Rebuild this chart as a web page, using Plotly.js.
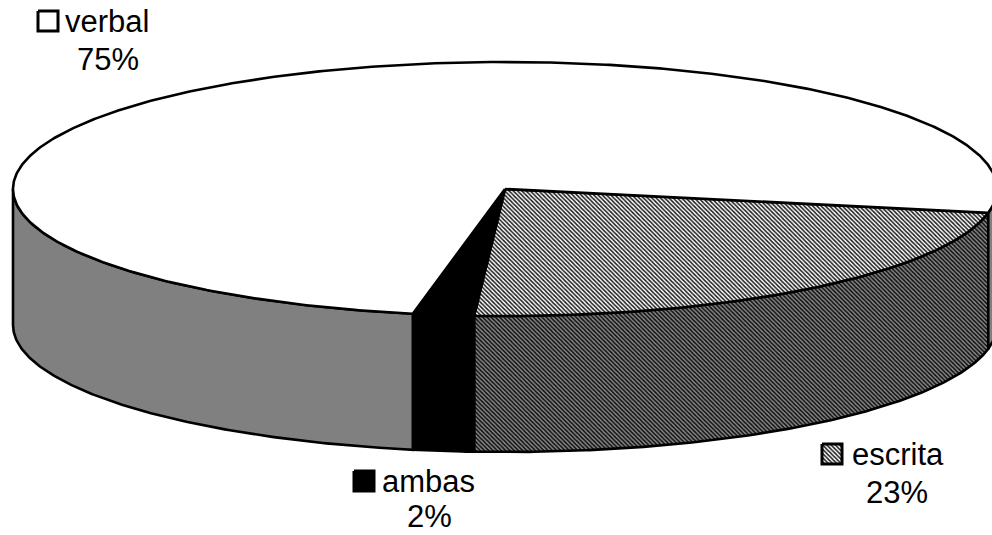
<!DOCTYPE html>
<html>
<head>
<meta charset="utf-8">
<script src="https://cdn.plot.ly/plotly-3.0.1.min.js"></script>
<style>html,body{margin:0;padding:0;background:#fff}</style>
</head>
<body>
<div id="chart" style="width:992px;height:535px"></div>
<script>
// Share of each communication type, in percent, clockwise from the right edge of the disc.
const categories = ["escrita", "ambas", "verbal"];
const shares = [23, 2, 75];

// Placement of each label and its key on the page.
const keyCentres = { escrita: [832, 454], ambas: [364, 481], verbal: [48, 21] };
const nameStarts = { escrita: 850, ambas: 380, verbal: 63 };
const shareCentres = { escrita: [897, 492], ambas: [429, 516], verbal: [108, 59] };

// Disc geometry of the tilted pie, in page pixels.
const cx = 505, cy = 189, rx = 492, ry = 127, depth = 136;
const startAngle = 10.8;

const topPattern = { shape: "\\", size: 3, solidity: 0.5, fgcolor: "#1a1a1a", bgcolor: "#ffffff", fillmode: "replace" };
const wallPattern = { shape: "\\", size: 3, solidity: 0.5, fgcolor: "#0d0d0d", bgcolor: "#8a8a8a", fillmode: "replace" };

const styles = {
  escrita: { top: { fillcolor: "#ffffff", fillpattern: topPattern }, wall: { fillcolor: "#808080", fillpattern: wallPattern } },
  ambas: { top: { fillcolor: "#000000" }, wall: { fillcolor: "#000000" } },
  verbal: { top: { fillcolor: "#ffffff" }, wall: { fillcolor: "#808080" } }
};

const rad = d => d * Math.PI / 180;
const rimX = a => cx + rx * Math.cos(rad(a));
const rimY = a => cy + ry * Math.sin(rad(a));

function arc(from, to) {
  const steps = Math.max(2, Math.ceil(Math.abs(to - from) * 2));
  const out = [];
  for (let i = 0; i <= steps; i++) out.push(from + (to - from) * i / steps);
  return out;
}

function polygon(xs, ys, style, width) {
  return Object.assign({
    type: "scatter", mode: "lines", x: xs, y: ys, fill: "toself",
    line: { color: "#000000", width: width === undefined ? 2.6 : width, shape: "linear" },
    hoverinfo: "skip", showlegend: false
  }, style);
}

function wallTrace(from, to, style) {
  const a = arc(from, to);
  const b = a.slice().reverse();
  return polygon(
    a.map(rimX).concat(b.map(rimX), [rimX(from)]),
    a.map(rimY).concat(b.map(v => rimY(v) + depth), [rimY(from)]),
    style
  );
}

function topTrace(from, to, style) {
  const a = arc(from, to);
  return polygon(
    [cx].concat(a.map(rimX), [cx]),
    [cy].concat(a.map(rimY), [cy]),
    style
  );
}

// Turn the shares into slice angles.
const slices = [];
let running = startAngle;
categories.forEach((name, i) => {
  const sweep = shares[i] * 3.6;
  slices.push({ name, from: running, to: running + sweep });
  running += sweep;
});

const walls = [];
const tops = [];
slices.forEach(s => {
  tops.push(topTrace(s.from, s.to, styles[s.name].top));
  // Only the near half of the rim (0 to 180 degrees) has a visible wall.
  const ranges = [[s.from, Math.min(s.to, 180)], [360, Math.min(s.to, 360 + s.from)]];
  ranges.forEach(([f, t]) => {
    if (t > f) walls.push(wallTrace(f, t, styles[s.name].wall));
  });
});

const keys = categories.map(name => {
  const [kx, ky] = keyCentres[name];
  const h = 10;
  const xs = [kx - h, kx + h, kx + h, kx - h, kx - h];
  const ys = [ky - h, ky - h, ky + h, ky + h, ky - h];
  return polygon(xs, ys, styles[name].top, 3);
});

const labelFont = { family: "Liberation Sans, Arial, sans-serif", size: 31, color: "#000000" };
const annotations = [];
categories.forEach((name, i) => {
  annotations.push({
    x: nameStarts[name], y: keyCentres[name][1], text: name, showarrow: false,
    xanchor: "left", yanchor: "middle", font: labelFont, xref: "x", yref: "y"
  });
  annotations.push({
    x: shareCentres[name][0], y: shareCentres[name][1], text: shares[i] + "%", showarrow: false,
    xanchor: "center", yanchor: "middle", font: labelFont, xref: "x", yref: "y"
  });
});

const hiddenAxis = { visible: false, showgrid: false, zeroline: false, fixedrange: true };

Plotly.newPlot("chart", walls.concat(tops, keys), {
  width: 992,
  height: 535,
  margin: { l: 0, r: 0, t: 0, b: 0 },
  paper_bgcolor: "#ffffff",
  plot_bgcolor: "#ffffff",
  showlegend: false,
  xaxis: Object.assign({ range: [0, 992] }, hiddenAxis),
  yaxis: Object.assign({ range: [535, 0] }, hiddenAxis),
  annotations
}, { displayModeBar: false, staticPlot: true });
</script>
</body>
</html>
